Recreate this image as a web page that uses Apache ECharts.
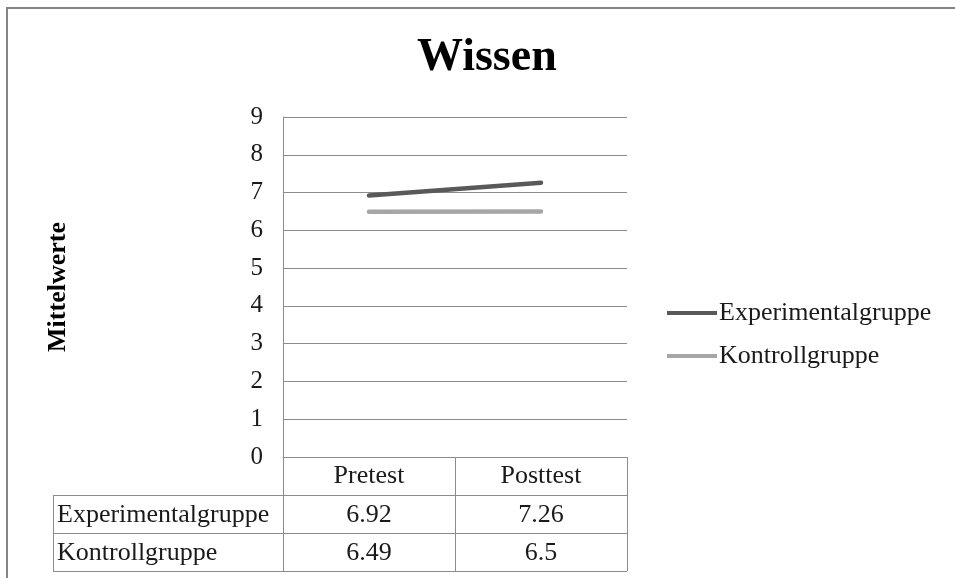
<!DOCTYPE html>
<html>
<head>
<meta charset="utf-8">
<script src="https://cdn.jsdelivr.net/npm/echarts@6/dist/echarts.min.js"></script>
<style>
html,body{margin:0;padding:0;background:#fff;}
#main{width:955px;height:578px;}
</style>
</head>
<body>
<div id="main"></div>
<script>
var categories = ['Pretest', 'Posttest'];
var seriesNames = ['Experimentalgruppe', 'Kontrollgruppe'];
var experimental = [6.92, 7.26];
var control = [6.49, 6.5];
var yMin = 0, yMax = 9, yInterval = 1;
var titleText = 'Wissen';
var yAxisName = 'Mittelwerte';

var FONT = '"Liberation Serif", "Times New Roman", serif';
var GRID = {left: 283, right: 328, top: 117, bottom: 121};
var ROW_H = 38;
var TABLE_LEFT = 53;
var LINE_COLOR = '#8c8c8c';
var TEXT_COLOR = '#1a1a1a';
var colors = ['#595959', '#a6a6a6'];

var chart = echarts.init(document.getElementById('main'), null, {renderer: 'canvas'});

var option = {
  animation: false,
  backgroundColor: '#fff',
  title: {
    text: titleText,
    left: 412,
    top: 30,
    padding: 5,
    textStyle: {fontFamily: FONT, fontSize: 46, fontWeight: 'bold', color: '#000'}
  },
  legend: {
    orient: 'vertical',
    left: 667,
    top: 300,
    padding: 0,
    itemWidth: 50,
    itemHeight: 4,
    itemGap: 17,
    icon: 'rect',
    textStyle: {fontFamily: FONT, fontSize: 26, color: TEXT_COLOR, padding: [0, 0, 0, -3]},
    data: seriesNames
  },
  grid: {left: GRID.left, right: GRID.right, top: GRID.top, bottom: GRID.bottom, containLabel: false},
  xAxis: {
    type: 'category',
    data: categories,
    boundaryGap: true,
    axisLine: {show: true, lineStyle: {color: LINE_COLOR, width: 1}},
    axisTick: {show: true, length: ROW_H, inside: false, lineStyle: {color: LINE_COLOR, width: 1}},
    axisLabel: {fontFamily: FONT, fontSize: 26, color: TEXT_COLOR, margin: 6},
    splitLine: {show: false}
  },
  yAxis: {
    type: 'value',
    min: yMin,
    max: yMax,
    interval: yInterval,
    name: yAxisName,
    nameLocation: 'middle',
    nameRotate: 90,
    nameGap: 212,
    nameTextStyle: {fontFamily: FONT, fontSize: 26, fontWeight: 'bold', color: '#000'},
    axisLine: {show: true, lineStyle: {color: LINE_COLOR, width: 1}},
    axisTick: {show: false},
    axisLabel: {fontFamily: FONT, fontSize: 25, color: TEXT_COLOR, margin: 20},
    splitLine: {show: true, lineStyle: {color: LINE_COLOR, width: 1}}
  },
  series: [
    {
      name: seriesNames[0], type: 'line', data: experimental, symbol: 'none',
      lineStyle: {color: colors[0], width: 4.5, cap: 'round'}, itemStyle: {color: colors[0]}
    },
    {
      name: seriesNames[1], type: 'line', data: control, symbol: 'none',
      lineStyle: {color: colors[1], width: 4.5, cap: 'round'}, itemStyle: {color: colors[1]}
    }
  ]
};
chart.setOption(option);

// Build data table below the x axis
function buildTable() {
  var x0 = chart.convertToPixel({xAxisIndex: 0}, categories[0]);
  var x1 = chart.convertToPixel({xAxisIndex: 0}, categories[1]);
  var colW = x1 - x0;
  var axisY = chart.convertToPixel({yAxisIndex: 0}, yMin);
  var plotLeft = x0 - colW / 2;
  var plotRight = x1 + colW / 2;
  var mid = x0 + colW / 2;
  var els = [];
  var ls = {stroke: LINE_COLOR, lineWidth: 1};
  var rowsTop = axisY + ROW_H;
  var rows = [[seriesNames[0], experimental], [seriesNames[1], control]];
  for (var r = 0; r <= rows.length; r++) {
    var yy = Math.round(rowsTop + r * ROW_H) + 0.5;
    els.push({type: 'line', shape: {x1: TABLE_LEFT, y1: yy, x2: plotRight, y2: yy}, style: ls, silent: true});
  }
  [TABLE_LEFT, plotLeft, mid, plotRight].forEach(function (xx) {
    var px = Math.round(xx) + 0.5;
    els.push({type: 'line', shape: {x1: px, y1: rowsTop, x2: px, y2: rowsTop + rows.length * ROW_H}, style: ls, silent: true});
  });
  rows.forEach(function (row, i) {
    var cy = rowsTop + i * ROW_H + ROW_H / 2 + 1;
    els.push({type: 'text', x: TABLE_LEFT + 4, y: cy, style: {text: row[0], fontFamily: FONT, fontSize: 26, fill: TEXT_COLOR, verticalAlign: 'middle', align: 'left'}, silent: true});
    [x0, x1].forEach(function (cx, j) {
      els.push({type: 'text', x: cx, y: cy, style: {text: String(row[1][j]), fontFamily: FONT, fontSize: 26, fill: TEXT_COLOR, verticalAlign: 'middle', align: 'center'}, silent: true});
    });
  });
  els.push({type: 'line', shape: {x1: 6, y1: 8, x2: 955, y2: 8}, style: {stroke: '#858585', lineWidth: 2}, silent: true});
  els.push({type: 'line', shape: {x1: 7, y1: 8, x2: 7, y2: 578}, style: {stroke: '#858585', lineWidth: 2}, silent: true});
  chart.setOption({graphic: {elements: els}});
}
buildTable();
</script>
</body>
</html>
